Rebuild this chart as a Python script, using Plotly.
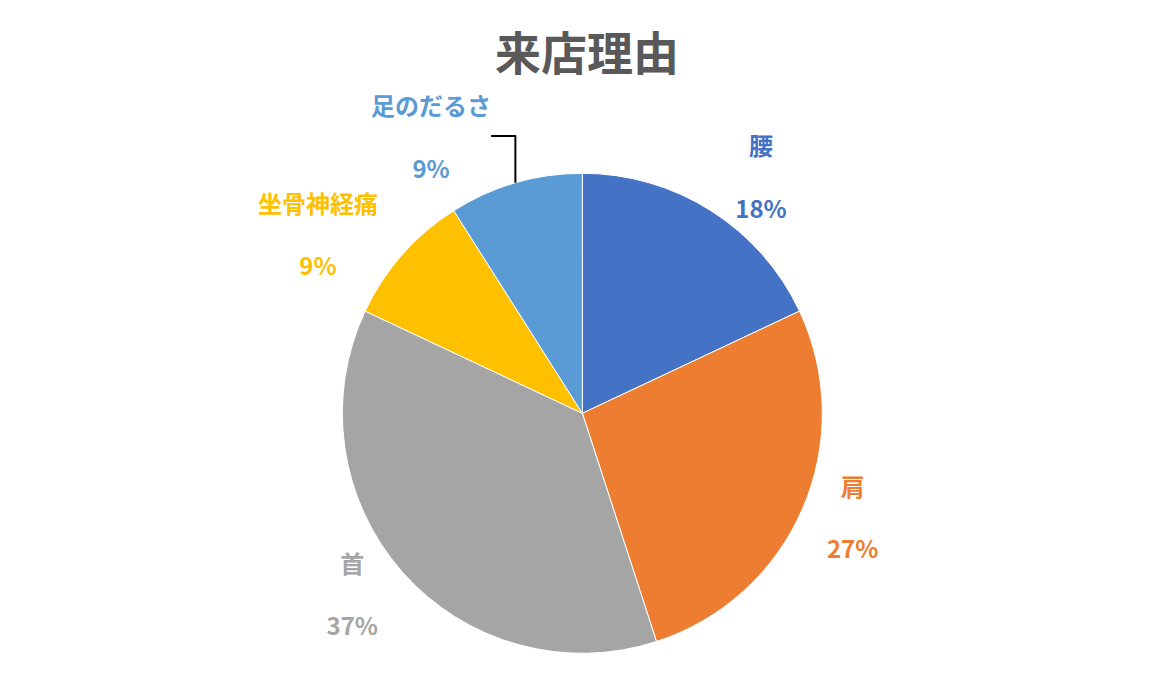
import plotly.graph_objects as go

labels = ["腰", "肩", "首", "坐骨神経痛", "足のだるさ"]
values = [18, 27, 37, 9, 9]
colors = ["#4472C4", "#ED7D31", "#A5A5A5", "#FFC000", "#5B9BD5"]

fig = go.Figure(go.Pie(
    labels=labels, values=values, sort=False, direction="clockwise", rotation=0,
    marker=dict(colors=colors, line=dict(color="white", width=1)),
    textposition="outside", texttemplate="<b>%{label}<br><br>%{percent:.0%}</b>",
    outsidetextfont=dict(color=colors, size=24, family="Noto Sans CJK JP"),
    showlegend=False, domain=dict(x=[0.287, 0.699], y=[0.078, 0.764]),
    hoverinfo="label+percent",
))
fig.update_layout(
    width=1165, height=700, paper_bgcolor="white", margin=dict(l=0, r=0, t=0, b=0),
    title=dict(text="<b>来店理由</b>", x=0.497, y=0.935, xanchor="center", yanchor="middle",
               font=dict(size=46, color="#595959", family="Noto Sans CJK JP")),
    font=dict(family="Noto Sans CJK JP"),
)
fig.write_html("out.html")
